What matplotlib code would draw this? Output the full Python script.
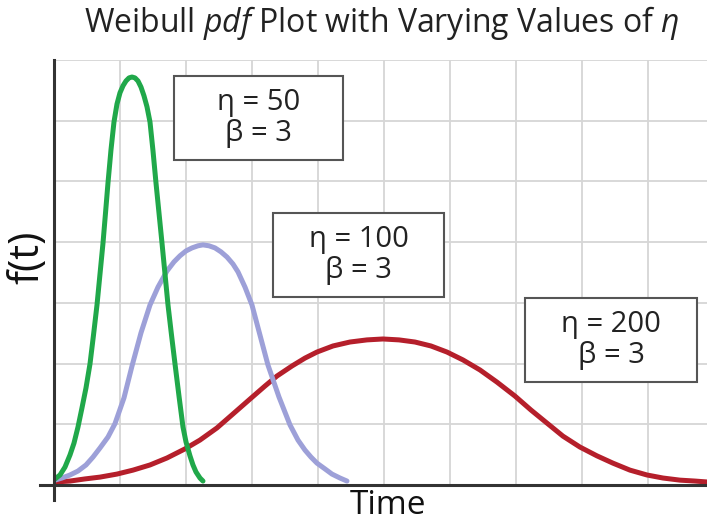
import matplotlib
matplotlib.use("Agg")
import matplotlib.pyplot as plt
from matplotlib.patches import Rectangle

plt.rcParams['font.family'] = ['Open Sans', 'DejaVu Sans']
plt.rcParams['mathtext.fontset'] = 'custom'
plt.rcParams['mathtext.rm'] = 'Open Sans'
plt.rcParams['mathtext.it'] = 'Open Sans:italic'

# curves: time, f(t) in units of 1e-3
green_t = [0.30, 1.82, 3.33, 4.85, 6.06, 7.27, 8.48, 9.70, 10.91, 11.97, 13.03, 13.94,
           14.85, 15.61, 16.36, 17.27, 18.18, 19.09, 20.00, 20.91, 21.82, 22.73, 23.64,
           24.55, 25.45, 26.36, 27.27, 28.18, 29.09, 30.00, 30.91, 31.82, 32.73, 33.64,
           34.55, 35.61, 36.67, 37.88, 39.09, 40.00, 41.21, 42.12, 43.03, 44.24, 45.15]
green_f = [0.20, 0.33, 0.59, 0.99, 1.38, 1.91, 2.54, 3.20, 3.99, 4.94, 5.93, 6.95,
           7.97, 8.96, 9.95, 11.04, 11.96, 12.55, 12.92, 13.15, 13.31, 13.41, 13.44,
           13.41, 13.31, 13.11, 12.82, 12.46, 11.96, 11.01, 9.95, 8.96, 7.97, 6.95,
           5.93, 4.94, 3.99, 2.93, 1.91, 1.42, 0.96, 0.66, 0.43, 0.23, 0.13]

blue_t = [0.30, 2.42, 4.85, 7.27, 9.70, 11.82, 13.94, 16.36, 18.48, 21.21, 23.64, 26.36,
          29.09, 31.52, 34.24, 36.36, 38.18, 40.00, 41.82, 43.64, 45.15, 46.97, 48.79,
          50.61, 52.42, 54.24, 55.76, 57.88, 60.00, 62.42, 64.85, 68.18, 71.52, 73.94,
          76.06, 77.88, 79.70, 82.12, 84.24, 86.67, 88.79]
blue_f = [0.16, 0.23, 0.33, 0.46, 0.66, 0.92, 1.22, 1.58, 2.02, 2.87, 3.92, 5.01,
          5.93, 6.52, 7.05, 7.35, 7.55, 7.71, 7.81, 7.88, 7.91, 7.88, 7.81,
          7.68, 7.51, 7.28, 7.02, 6.52, 5.93, 4.94, 3.95, 2.90, 1.98, 1.48,
          1.15, 0.92, 0.72, 0.53, 0.36, 0.23, 0.13]

red_t = [0.30, 4.85, 9.39, 13.94, 19.09, 23.94, 29.09, 34.24, 39.70, 44.24, 49.39, 54.24,
         59.39, 63.94, 67.58, 72.12, 76.06, 79.70, 84.55, 89.70, 94.85, 99.70, 104.55,
         109.39, 114.24, 119.09, 123.94, 129.09, 134.24, 139.70, 144.55, 149.39, 154.24,
         159.39, 164.55, 169.39, 174.55, 179.70, 184.55, 189.70, 194.24, 197.88]
red_f = [0.10, 0.13, 0.20, 0.26, 0.36, 0.49, 0.66, 0.89, 1.19, 1.48, 1.88, 2.34,
         2.83, 3.26, 3.59, 3.92, 4.18, 4.38, 4.58, 4.71, 4.78, 4.81, 4.78,
         4.71, 4.58, 4.38, 4.12, 3.79, 3.39, 2.93, 2.47, 2.04, 1.61,
         1.25, 0.96, 0.72, 0.49, 0.33, 0.23, 0.16, 0.13, 0.10]

box_labels = ["η = 50\nβ = 3", "η = 100\nβ = 3", "η = 200\nβ = 3"]

W, H = 707, 523
fig = plt.figure(figsize=(W / 100, H / 100), dpi=100)
ax = fig.add_axes([54 / W, 1 - 485 / H, 1 - 54 / W, (485 - 60) / H])

line_kw = dict(lw=3.6, solid_capstyle="round", solid_joinstyle="round")
ax.plot(red_t, red_f, color="#b51f2b", zorder=3, **line_kw)
ax.plot(blue_t, blue_f, color="#9da0d8", zorder=3, **line_kw)
ax.plot(green_t, green_f, color="#20a84a", zorder=4, **line_kw)

ax.set_xlim(0, 197.9)
ax.set_ylim(0, 14)
ax.set_xticks(range(0, 200, 20))
ax.set_yticks(range(0, 15, 2))
ax.tick_params(length=0, labelleft=False, labelbottom=False)
ax.grid(True, color="#d6d6d6", lw=1.3)
ax.set_axisbelow(True)
for s in ["top", "right", "left", "bottom"]:
    ax.spines[s].set_visible(False)
# axis lines with small overhang
ax.plot([0, 0], [-0.035, 1], transform=ax.transAxes, color="#333333", lw=2.2, clip_on=False, zorder=5)
ax.plot([-0.022, 1], [0, 0], transform=ax.transAxes, color="#333333", lw=2.2, clip_on=False, zorder=5)

# annotation boxes (pixel layout)
boxes = [(174, 76, 343, 160), (273, 213, 444, 297), (525, 298, 697, 382)]
for (x0, y0, x1, y1), lab in zip(boxes, box_labels):
    fig.patches.append(Rectangle((x0 / W, 1 - y1 / H), (x1 - x0) / W, (y1 - y0) / H,
                                 transform=fig.transFigure, facecolor="white",
                                 edgecolor="#555555", lw=1.5, zorder=6))
    fig.text((x0 + x1) / 2 / W, 1 - (y0 + y1) / 2 / H, lab, ha="center", va="center",
             fontsize=21, color="#222222", linespacing=1.1, zorder=7)

fig.text(382 / W, 1 - 23 / H, r"Weibull $\mathit{pdf}$ Plot with Varying Values of $\mathit{η}$",
         ha="center", va="center", fontsize=23, color="#222222")
fig.text(27 / W, 1 - 257 / H, "f(t)", rotation=90, ha="center", va="center",
         fontsize=30, color="#111111")
fig.text(388 / W, 1 - 514 / H, "Time", ha="center", va="baseline", fontsize=24, color="#111111")

fig.savefig("out.png", dpi=100)
